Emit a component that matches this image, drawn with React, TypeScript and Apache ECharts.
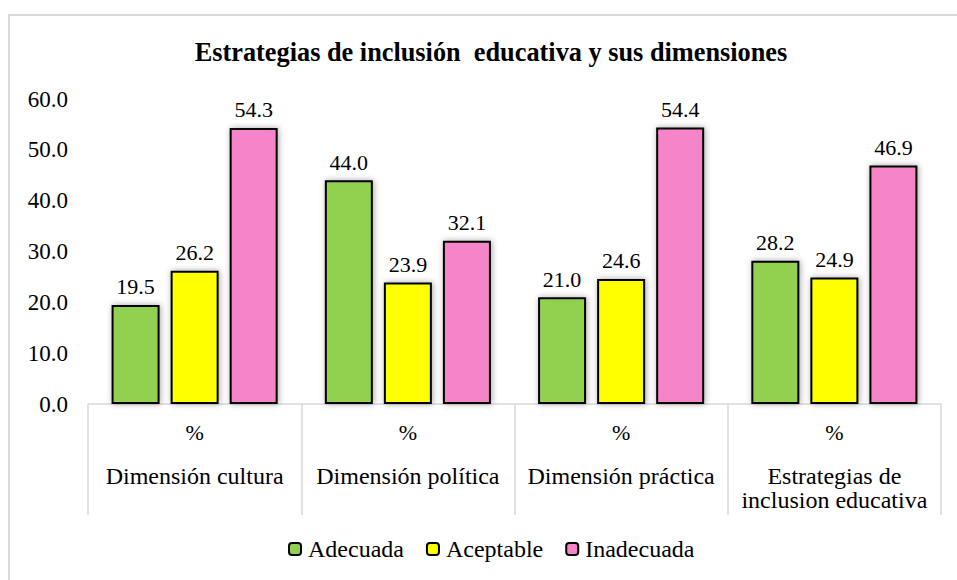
import React, { useEffect, useRef } from "react";
import * as echarts from "echarts";

const categories = [
  "Dimensión cultura",
  "Dimensión política",
  "Dimensión práctica",
  "Estrategias de\ninclusion educativa",
];
const subLabel = "%";
const seriesNames = ["Adecuada", "Aceptable", "Inadecuada"];
const adecuada = [19.5, 44.0, 21.0, 28.2];
const aceptable = [26.2, 23.9, 24.6, 24.9];
const inadecuada = [54.3, 32.1, 54.4, 46.9];
const colors = ["#92d050", "#ffff00", "#f584c8"];
const titleText = "Estrategias de inclusión  educativa y sus dimensiones";

const FONT = "Liberation Serif";

export default function App() {
  const ref = useRef<HTMLDivElement>(null);
  useEffect(() => {
    if (!ref.current) return;
    const chart = echarts.init(ref.current, null, { renderer: "svg" });
    const values = [adecuada, aceptable, inadecuada];
    chart.setOption({
      animation: false,
      backgroundColor: "#ffffff",
      title: {
        text: titleText,
        left: 486,
        top: 34,
        textAlign: "center",
        textStyle: { fontFamily: FONT, fontWeight: "bold", fontSize: 26.3, color: "#000" },
      },
      graphic: [
        {
          type: "rect",
          shape: { x: 9, y: 15, width: 960, height: 580 },
          style: { fill: "none", stroke: "#d9d9d9", lineWidth: 2 },
          silent: true,
        },
      ],
      legend: {
        left: 283,
        top: 532,
        itemWidth: 12,
        itemHeight: 12,
        itemGap: 22,
        textStyle: { fontFamily: FONT, fontSize: 24, color: "#000", padding: [0, 0, 0, 2] },
        data: seriesNames,
      },
      grid: { left: 88, right: 16, top: 99, bottom: 176, containLabel: false },
      xAxis: {
        type: "category",
        data: categories,
        axisLine: { show: true, lineStyle: { color: "#d9d9d9", width: 1.5 } },
        axisTick: { show: true, interval: 0, length: 111, lineStyle: { color: "#d9d9d9", width: 1.5 } },
        axisLabel: {
          interval: 0,
          margin: 6,
          fontFamily: FONT,
          formatter: (v: string) =>
            `{p|${subLabel}}\n{s| }\n` + v.split("\n").map((l) => `{n|${l}}`).join("\n"),
          rich: {
            p: { fontFamily: FONT, fontSize: 22, lineHeight: 44, color: "#000" },
            s: { fontFamily: FONT, fontSize: 6, lineHeight: 10 },
            n: { fontFamily: FONT, fontSize: 24, lineHeight: 24, color: "#000" },
          },
        },
      },
      yAxis: {
        type: "value",
        min: 0,
        max: 60,
        interval: 10,
        axisLine: { show: false },
        axisTick: { show: false },
        splitLine: { show: false },
        axisLabel: {
          margin: 20,
          fontFamily: FONT,
          fontSize: 23,
          color: "#000",
          formatter: (v: number) => v.toFixed(1),
        },
      },
      series: seriesNames.map((name, i) => ({
        name,
        type: "bar",
        data: values[i],
        barWidth: 48,
        barGap: "23%",
        itemStyle: {
          color: colors[i],
          borderColor: "#000",
          borderWidth: 2,
          shadowColor: "rgba(0,0,0,0.35)",
          shadowBlur: 6,
          shadowOffsetX: 1,
          shadowOffsetY: 0,
        },
        label: {
          show: true,
          position: "top",
          distance: 7,
          fontFamily: FONT,
          fontSize: 22,
          color: "#000",
          formatter: (p: any) => Number(p.value).toFixed(1),
        },
      })),
    });
    return () => chart.dispose();
  }, []);
  return (
    <div
      ref={ref}
      style={{ position: "fixed", left: 0, top: 0, width: 957, height: 580 }}
    />
  );
}
